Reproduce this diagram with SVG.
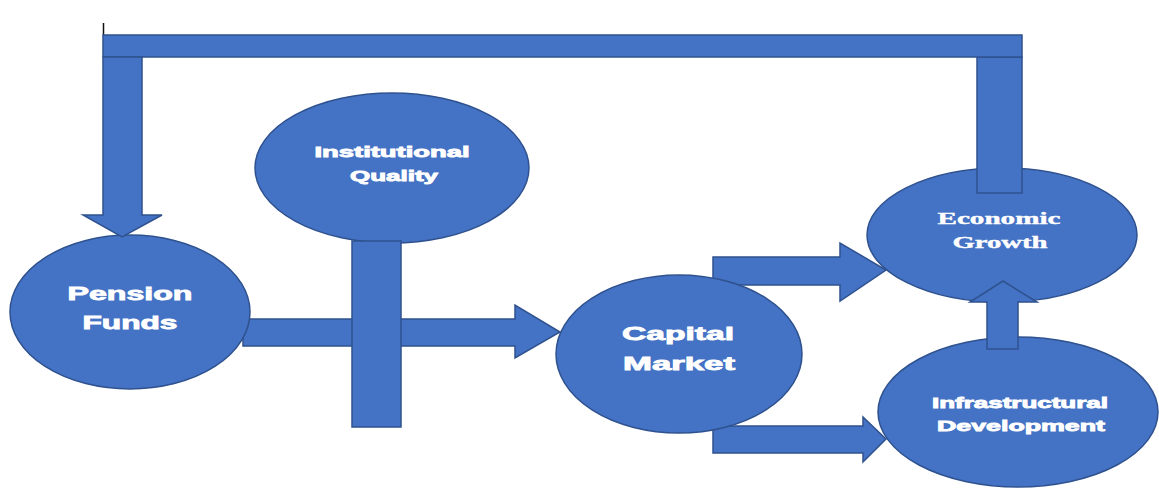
<svg xmlns="http://www.w3.org/2000/svg" width="1159" height="498" viewBox="0 0 1159 498">
  <style>
    .shape { fill: #4472C4; stroke: #2F528F; stroke-width: 1.5; stroke-linejoin: miter; }
    .lbl { fill: #FFFFFF; font-family: "Liberation Sans", Arial, sans-serif; font-weight: bold; text-anchor: middle; stroke: #FFFFFF; stroke-width: 0.8; }
    .lbl-serif { fill: #FFFFFF; font-family: "Liberation Serif", "Times New Roman", serif; font-weight: bold; text-anchor: middle; stroke: #FFFFFF; stroke-width: 0.4; }
  </style>

  <rect x="0" y="0" width="1159" height="498" fill="#FFFFFF"/>

  <!-- small cursor tick above the feedback bar -->
  <line x1="103.5" y1="23" x2="103.5" y2="35" stroke="#111111" stroke-width="1.5"/>

  <!-- block arrows that pass beneath the circles -->
  <g id="connectors">
    <!-- Capital Market -> Economic Growth -->
    <polygon class="shape" points="713,257 840,257 840,243 886,270 840,301 840,285 713,285"/>
    <!-- Capital Market -> Infrastructural Development -->
    <polygon class="shape" points="713,426 863,426 863,417 886,439 863,462 863,453 713,453"/>
    <!-- Pension Funds -> Capital Market -->
    <polygon class="shape" points="243,319 515,319 515,305 560,332 515,358 515,346 243,346"/>
  </g>

  <g id="node-pension-funds">
    <ellipse class="shape" cx="130" cy="312" rx="120" ry="77"/>
    <text class="lbl" x="130" y="300" font-size="18" textLength="125" lengthAdjust="spacingAndGlyphs">Pension</text>
    <text class="lbl" x="130" y="329" font-size="18" textLength="95" lengthAdjust="spacingAndGlyphs">Funds</text>
  </g>

  <g id="node-institutional-quality">
    <ellipse class="shape" cx="392" cy="168" rx="137" ry="75"/>
    <text class="lbl" x="392" y="157" font-size="14" textLength="155" lengthAdjust="spacingAndGlyphs">Institutional</text>
    <text class="lbl" x="394" y="181" font-size="14" textLength="88" lengthAdjust="spacingAndGlyphs">Quality</text>
  </g>

  <g id="node-capital-market">
    <ellipse class="shape" cx="679" cy="354" rx="123" ry="79"/>
    <text class="lbl" x="678" y="340" font-size="18" textLength="112" lengthAdjust="spacingAndGlyphs">Capital</text>
    <text class="lbl" x="679" y="370" font-size="18" textLength="112" lengthAdjust="spacingAndGlyphs">Market</text>
  </g>

  <g id="node-economic-growth">
    <ellipse class="shape" cx="1002" cy="235" rx="135" ry="67"/>
  </g>

  <g id="node-infrastructural-development">
    <ellipse class="shape" cx="1018" cy="412" rx="140" ry="75"/>
  </g>

  <!-- block arrows and bars drawn over the circles -->
  <g id="connectors-front">
    <!-- feedback loop: Economic Growth back to Pension Funds -->
    <rect class="shape" x="977" y="57" width="45" height="136"/>
    <rect class="shape" x="103" y="35" width="919" height="22"/>
    <polygon class="shape" points="103,57 142,57 142,215 162,215 122,237 83,215 103,215"/>
    <!-- Institutional Quality moderating bar -->
    <rect class="shape" x="352" y="241" width="49" height="186"/>
    <!-- Infrastructural Development -> Economic Growth -->
    <polygon class="shape" points="987,349 987,302 970,302 1003,281 1037,302 1018,302 1018,349"/>
  </g>

  <!-- labels for the right-hand circles, kept above the arrows -->
  <g id="labels-right">
    <text class="lbl-serif" x="999" y="224" font-size="17" textLength="123" lengthAdjust="spacingAndGlyphs">Economic</text>
    <text class="lbl-serif" x="1000" y="248" font-size="17" textLength="95" lengthAdjust="spacingAndGlyphs">Growth</text>
    <text class="lbl" x="1020" y="408" font-size="14" textLength="176" lengthAdjust="spacingAndGlyphs">Infrastructural</text>
    <text class="lbl" x="1021" y="431" font-size="14" textLength="168" lengthAdjust="spacingAndGlyphs">Development</text>
  </g>
</svg>
